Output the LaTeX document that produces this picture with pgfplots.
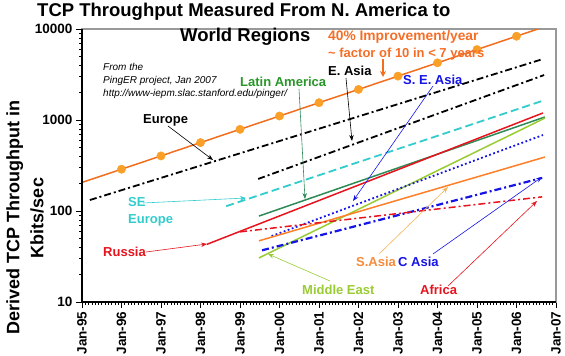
\documentclass[border=0pt]{standalone}
\usepackage{fontspec}
\setmainfont{Liberation Sans}
\usepackage{pgfplots}
\pgfplotsset{compat=1.18}
\usetikzlibrary{arrows.meta}
\definecolor{orln}{RGB}{240,110,30}
\definecolor{ormk}{RGB}{250,160,40}
\definecolor{ortx}{RGB}{245,110,40}
\definecolor{secy}{RGB}{51,204,204}
\definecolor{lagr}{RGB}{46,139,87}
\definecolor{latx}{RGB}{40,150,40}
\definecolor{rured}{RGB}{230,20,30}
\definecolor{megr}{RGB}{153,204,51}
\definecolor{bl}{RGB}{20,20,230}
\definecolor{saor}{RGB}{255,128,40}
\definecolor{satx}{RGB}{245,140,60}
\definecolor{saar}{RGB}{245,180,90}
\begin{document}
\begin{tikzpicture}
\begin{axis}[
  scale only axis, width=474pt, height=273pt,
  at={(0,0)}, anchor=south west,
  xmin=1995, xmax=2007, ymode=log, ymin=10, ymax=10000,
  xtick={1995,1996,1997,1998,1999,2000,2001,2002,2003,2004,2005,2006,2007},
  xticklabels={Jan-95,Jan-96,Jan-97,Jan-98,Jan-99,Jan-00,Jan-01,Jan-02,Jan-03,Jan-04,Jan-05,Jan-06,Jan-07},
  minor x tick num=11,
  ytick={10,100,1000,10000}, yticklabels={10,100,1000,10000},
  minor ytick={20,30,40,50,60,70,80,90,200,300,400,500,600,700,800,900,2000,3000,4000,5000,6000,7000,8000,9000},
  tick align=outside, xtick pos=bottom, ytick pos=left,
  major tick length=6pt, minor tick length=3pt,
  tick style={black, line width=0.6pt},
  axis line style={draw=black!40, line width=1.2pt},
  xticklabel style={rotate=90, anchor=east, font=\bfseries\fontsize{13.5}{13.5}\selectfont},
  yticklabel style={font=\bfseries\fontsize{13.5}{13.5}\selectfont},
]
% Europe
\addplot[black, line width=1.8pt, dash pattern=on 7pt off 3pt on 2pt off 3pt] coordinates {(1995.2,132) (2006.67,4680)};
% E. Asia
\addplot[black, line width=1.8pt, dash pattern=on 7pt off 3pt on 2pt off 3pt] coordinates {(1999.46,225) (2006.7,3120)};
% SE Europe
\addplot[secy, line width=1.8pt, dash pattern=on 8pt off 4pt] coordinates {(1998.65,113) (2006.67,1630)};
% Latin America
\addplot[lagr, line width=1.5pt] coordinates {(1999.48,88) (2006.72,1080)};
% Russia
\addplot[rured, line width=1.5pt] coordinates {(1998.16,43) (2006.67,1195)};
% Middle East
\addplot[megr, line width=1.5pt] coordinates {(1999.48,30.5) (2006.72,1050)};
% S.E. Asia
\addplot[bl, line width=1.8pt, dash pattern=on 1.8pt off 2.5pt] coordinates {(1999.8,53) (2006.67,684)};
% S. Asia
\addplot[saor, line width=1.5pt] coordinates {(1999.48,47) (2006.72,392)};
% C Asia
\addplot[bl, line width=2.2pt, dash pattern=on 7pt off 3pt on 2pt off 3pt] coordinates {(1999.56,37) (2006.65,231)};
% Africa
\addplot[rured, line width=1.5pt, dash pattern=on 7pt off 3pt on 2pt off 3pt] coordinates {(1999.0,59) (2006.65,143)};
% 40% improvement
\addplot[orln, line width=1.5pt] coordinates {(1995,206) (1996,288) (1997,403) (1998,565) (1999,790) (2000,1106) (2001,1549) (2002,2168) (2003,3036) (2004,4250) (2005,5950) (2006,8330) (2007,11660)};
\addplot[only marks, mark=*, mark size=4.2pt, mark options={fill=ormk, draw=ormk}] coordinates {(1996,288) (1997,403) (1998,565) (1999,790) (2000,1106) (2001,1549) (2002,2168) (2003,3036) (2004,4250) (2005,5950) (2006,8330)};
\end{axis}
\draw[black, line width=1.6pt] (0pt,273pt) -- (0pt,0pt) -- (474pt,0pt);
% titles
\node[anchor=base west, inner sep=0pt, font=\bfseries\fontsize{18.5}{18.5}\selectfont] at (-45pt,285pt) {TCP Throughput Measured From N. America to};
\node[anchor=base west, inner sep=0pt, font=\bfseries\fontsize{18.5}{18.5}\selectfont] at (98pt,260pt) {World Regions};
\node[rotate=90, align=center, inner sep=0pt, font=\bfseries\fontsize{18}{24}\selectfont] at (-57pt,84pt) {Derived TCP Throughput in\\Kbits/sec};
% source note
\begin{scope}[every node/.style={anchor=base west, inner sep=0pt, font=\itshape\fontsize{10}{10}\selectfont}]
\node at (21pt,231pt) {From the};
\node at (21pt,218pt) {PingER project, Jan 2007};
\node at (21pt,205pt) {http://www-iepm.slac.stanford.edu/pinger/};
\end{scope}
\begin{scope}[every node/.style={anchor=base west, inner sep=0pt, font=\bfseries\fontsize{13}{13}\selectfont}]
\node[text=latx] at (158pt,215pt) {Latin America};
\node[text=black] at (246pt,226pt) {E. Asia};
\node[text=ortx, font=\bfseries\fontsize{13.8}{13.8}\selectfont] at (246pt,261pt) {40\% Improvement/year};
\node[text=ortx] at (246pt,244pt) {\char`~\ factor of 10 in < 7 years};
\node[text=bl] at (321pt,217pt) {S. E. Asia};
\node[text=black] at (61pt,178pt) {Europe};
\node[text=secy] at (46pt,95pt) {SE};
\node[text=secy] at (46pt,78pt) {Europe};
\node[text=rured] at (21pt,45pt) {Russia};
\node[text=megr] at (220pt,7pt) {Middle East};
\node[text=satx] at (274pt,35pt) {S.Asia};
\node[text=bl] at (316pt,35pt) {C Asia};
\node[text=rured] at (338pt,7pt) {Africa};
\end{scope}
\begin{scope}[every path/.style={line width=0.6pt, -{Stealth[length=6pt,width=4.5pt]}}]
\draw[black] (86pt,176pt) -- (131pt,142pt);
\draw[lagr] (217pt,213pt) -- (223pt,103pt);
\draw[black] (264pt,224pt) -- (270pt,161pt);
\draw[bl] (351pt,216pt) -- (271pt,101pt);
\draw[secy] (61pt,99pt) -- (164pt,104pt);
\draw[rured] (64pt,50pt) -- (125pt,58pt);
\draw[megr] (248pt,21pt) -- (186pt,48pt);
\draw[saar] (297pt,48pt) -- (366pt,115pt);
\draw[bl] (351pt,48pt) -- (460pt,125pt);
\draw[rured] (366pt,16pt) -- (455pt,101pt);
\end{scope}
\draw[orln, line width=1.8pt, -{Stealth[length=6pt,width=6pt]}] (301pt,243pt) -- (301pt,225pt);
\pgfresetboundingbox
\path[use as bounding box] (-82pt,-54pt) rectangle (483pt,302pt);
\end{tikzpicture}
\end{document}
